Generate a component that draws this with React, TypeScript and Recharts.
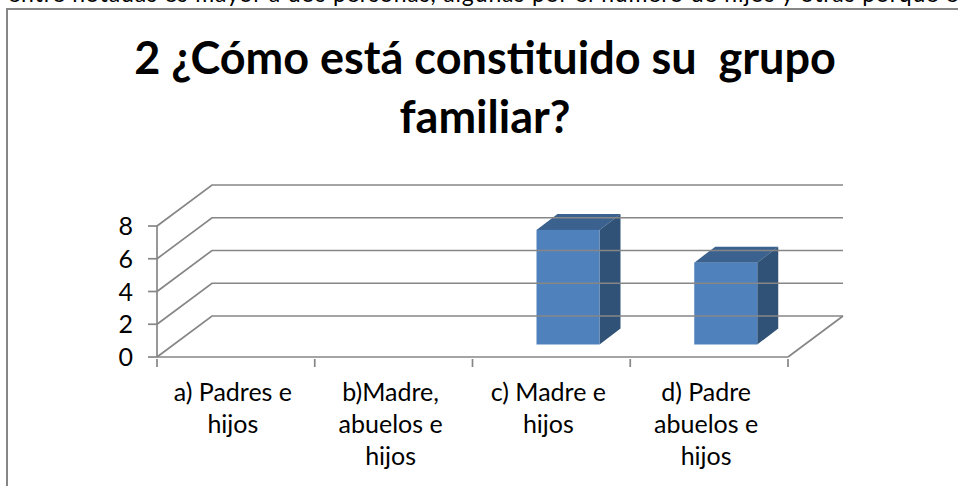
import React from "react";
import { BarChart, Bar, XAxis, YAxis } from "recharts";

const categories = ["a) Padres e hijos", "b)Madre, abuelos e hijos", "c) Madre e hijos", "d) Padre abuelos e hijos"];
const categoryLines: Record<string, string[]> = {
  "a) Padres e hijos": ["a) Padres e", "hijos"],
  "b)Madre, abuelos e hijos": ["b)Madre,", "abuelos e", "hijos"],
  "c) Madre e hijos": ["c) Madre e", "hijos"],
  "d) Padre abuelos e hijos": ["d) Padre", "abuelos e", "hijos"],
};
const values = [0, 0, 7, 5];
const yTicks = [0, 2, 4, 6, 8];
const titleLines = ["2 ¿Cómo está constituido su  grupo", "familiar?"];
const clippedLine = "entre notadas es mayor a dos personas, algunas por el número de hijos y otras porque e";

const data = categories.map((name, i) => ({ name, value: values[i] }));

const FONT = "Lato, 'Open Sans', sans-serif";
const AXIS = "#868686";
const SW = 1.7;
const DX = 55;
const DY = -41;
const PLOT_W = 631;
const BAND = PLOT_W / categories.length;

const YTick = (props: any) => {
  const { x, y, payload } = props;
  const ax = x + 8;
  return (
    <g>
      <polyline
        points={`${ax},${y} ${ax + DX},${y + DY} ${ax + PLOT_W + DX},${y + DY}`}
        fill="none"
        stroke={AXIS}
        strokeWidth={SW}
      />
      {payload.value === 0 && (
        <line x1={ax + PLOT_W} x2={ax + PLOT_W + DX} y1={y} y2={y + DY} stroke={AXIS} strokeWidth={SW} />
      )}
      <line x1={ax - 9} x2={ax} y1={y} y2={y} stroke={AXIS} strokeWidth={SW} />
      <text x={ax - 24} y={y + 9} textAnchor="end" fontFamily={FONT} fontSize={25} fill="#000">
        {payload.value}
      </text>
    </g>
  );
};

const XTick = (props: any) => {
  const { x, y, payload, index } = props;
  const lines = categoryLines[payload.value] || [payload.value];
  const left = x - BAND / 2;
  const axisY = y - 7;
  return (
    <g>
      <line x1={left} x2={left} y1={axisY} y2={axisY + 8} stroke={AXIS} strokeWidth={SW} />
      {index === categories.length - 1 && (
        <line x1={left + BAND} x2={left + BAND} y1={axisY} y2={axisY + 8} stroke={AXIS} strokeWidth={SW} />
      )}
      {lines.map((l: string, i: number) => (
        <text key={l} x={x - 3} y={y + 35 + i * 32} textAnchor="middle" fontFamily={FONT} fontSize={25} fill="#000">
          {l}
        </text>
      ))}
    </g>
  );
};

const Bar3D = (props: any) => {
  const { x, y, width, height } = props;
  if (!height) return <g />;
  const fx = x + 17;
  const fy = y - 12.5;
  const d = 21;
  const u = 16;
  return (
    <g>
      <polygon points={`${fx},${fy} ${fx + d},${fy - u} ${fx + width + d},${fy - u} ${fx + width},${fy}`} fill="#3b618f" />
      <polygon
        points={`${fx + width},${fy} ${fx + width + d},${fy - u} ${fx + width + d},${fy + height - u} ${fx + width},${fy + height}`}
        fill="#315277"
      />
      <rect x={fx} y={fy} width={width} height={height} fill="#4f81bd" />
    </g>
  );
};

export default function App() {
  return (
    <div style={{ position: "absolute", left: 0, top: 0, width: 958, height: 486, overflow: "hidden", background: "#fff" }}>
      <BarChart
        width={958}
        height={486}
        data={data}
        margin={{ top: 226, right: 170, bottom: 0, left: 97 }}
        barCategoryGap="60%"
      >
        <text x={8} y={2} fontFamily={FONT} fontSize={23} fill="#000" textLength={950}>
          {clippedLine}
        </text>
        <path d="M958,9 L7,9 L7,486" fill="none" stroke="#868686" strokeWidth={2} />
        {titleLines.map((t, i) => (
          <text key={t} x={485} y={74 + i * 59} textAnchor="middle" fontFamily={FONT} fontWeight={700} fontSize={45} fill="#000" style={{ whiteSpace: "pre" }}>
            {t}
          </text>
        ))}
        <XAxis
          dataKey="name"
          interval={0}
          tick={<XTick />}
          tickLine={false}
          axisLine={{ stroke: AXIS, strokeWidth: SW }}
          tickSize={7}
          height={129}
        />
        <YAxis
          domain={[0, 8]}
          ticks={yTicks}
          interval={0}
          tick={<YTick />}
          tickLine={false}
          axisLine={{ stroke: AXIS, strokeWidth: SW }}
          tickMargin={0}
          tickSize={8}
          width={60}
        />
        <Bar dataKey="value" barSize={63} isAnimationActive={false} shape={<Bar3D />} />
      </BarChart>
    </div>
  );
}
